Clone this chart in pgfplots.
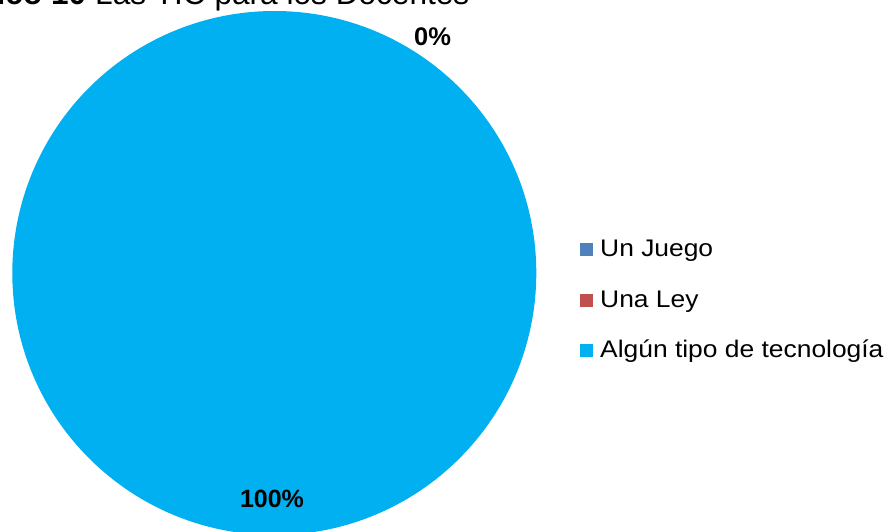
\documentclass[border=0pt]{standalone}
\usepackage{pgfplots}
\pgfplotsset{compat=1.18}
\usepackage{pgfplotstable}
\usepackage{fontspec}
\setmainfont{Liberation Sans}
\definecolor{cJuego}{HTML}{4F81BD}
\definecolor{cLey}{HTML}{C0504D}
\definecolor{cTec}{HTML}{00B0F0}
\pgfplotstableread[col sep=comma]{
cat,val
Un Juego,0
Una Ley,0
Algun tipo de tecnologia,100
}\piedata
\newcommand{\leg}[1]{\scalebox{1.1}[1]{#1}}
\begin{document}
\begin{tikzpicture}[x=1pt,y=1pt]
\useasboundingbox (0,0) rectangle (889,531);
\begin{axis}[
  at={(274.3pt,258pt)}, anchor=center,
  scale only axis, width=524pt, height=524pt,
  xmin=-1, xmax=1, ymin=-1, ymax=1,
  hide axis, clip=false]
  % slices start at 12 o'clock and run clockwise: 0, 0, 100 percent
  \pgfplotstablegetelem{2}{val}\of\piedata
  \pgfmathsetmacro{\sweep}{3.6*\pgfplotsretval}
  \fill[cTec] (axis cs:0,0) -- (axis cs:0,1) arc[start angle=90, delta angle=-\sweep, radius=262pt] -- cycle;
\end{axis}
% title (cut at the top edge)
\node[anchor=base west, inner sep=0pt, font=\fontsize{31.6}{36}\selectfont] at (95,526) {Las TIC para los Docentes};
\node[anchor=base east, inner sep=0pt, font=\fontsize{31.6}{36}\selectfont\bfseries] at (86.5,526) {Gráfico 10};
% data labels
\node[anchor=base, inner sep=0pt, font=\fontsize{25.5}{30}\selectfont\bfseries] at (432.5,485) {0\%};
\node[anchor=base, inner sep=0pt, font=\fontsize{25}{30}\selectfont\bfseries] at (272,24) {100\%};
% legend
\fill[cJuego] (580,275) rectangle (593,288);
\node[anchor=base west, inner sep=0pt, font=\fontsize{24}{28}\selectfont] at (600,275) {\leg{Un Juego}};
\fill[cLey] (580,224) rectangle (593,237);
\node[anchor=base west, inner sep=0pt, font=\fontsize{24}{28}\selectfont] at (600,224) {\leg{Una Ley}};
\fill[cTec] (580,174) rectangle (593,187);
\node[anchor=base west, inner sep=0pt, font=\fontsize{24}{28}\selectfont] at (600,174) {\leg{Algún tipo de tecnología}};
\end{tikzpicture}
\end{document}
